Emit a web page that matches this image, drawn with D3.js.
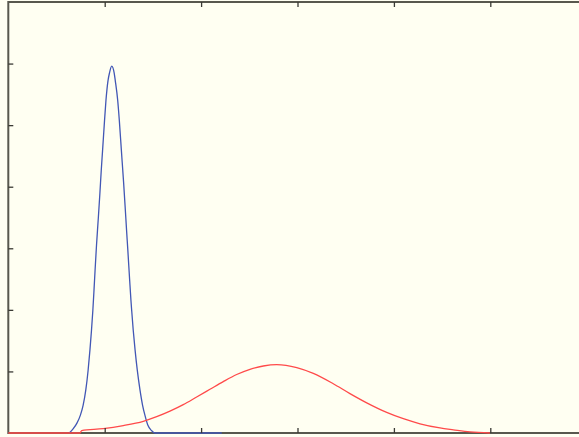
<!DOCTYPE html>
<html>
<head>
<meta charset="utf-8">
<script src="https://cdn.jsdelivr.net/npm/d3@7"></script>
<style>
  html, body { margin: 0; padding: 0; background: #fffff2; }
  svg { display: block; }
</style>
</head>
<body>
<div id="chart"></div>
<script>
// Chart size (the plot frame runs past the right edge of the window)
var w = 579, h = 437;
var frame = {left: 8.3, top: 2, right: 586.7, bottom: 433};

// Tick positions
var xTicks = [1, 2, 3, 4, 5];
var yTicks = [1, 2, 3, 4, 5, 6];

// Blue curve (narrow peak)
var blueX = [0.633, 0.674, 0.712, 0.748, 0.776, 0.804, 0.828, 0.847, 0.863, 0.877,
             0.889, 0.900, 0.915, 0.932, 0.950, 0.964, 0.978, 0.998, 1.013, 1.034,
             1.050, 1.073, 1.098, 1.110, 1.135, 1.152, 1.173, 1.196, 1.211, 1.227,
             1.240, 1.259, 1.272, 1.280, 1.296, 1.315, 1.338, 1.366, 1.393, 1.417,
             1.447, 1.485, 1.522, 2.214];
var blueY = [0.00, 0.07, 0.16, 0.29, 0.45, 0.70, 1.02, 1.35, 1.67, 1.99,
             2.32, 2.64, 3.05, 3.45, 3.89, 4.26, 4.59, 5.07, 5.40, 5.72,
             5.85, 5.96, 5.85, 5.72, 5.40, 5.07, 4.59, 4.07, 3.70, 3.29,
             2.97, 2.48, 2.16, 1.99, 1.67, 1.35, 1.02, 0.70, 0.45, 0.29,
             0.13, 0.04, 0.00, 0.00];

// Red curve (wide peak)
var redX = [0.000, 0.744, 0.761, 0.985, 1.193, 1.400, 1.539, 1.677, 1.815, 1.954,
            2.092, 2.230, 2.369, 2.507, 2.645, 2.784, 2.992, 3.164, 3.371, 3.544,
            3.718, 3.925, 4.098, 4.271, 4.478, 4.617, 4.790, 4.996];
var redY = [0.000, 0.000, 0.040, 0.070, 0.120, 0.190, 0.265, 0.355, 0.460, 0.585,
            0.710, 0.835, 0.950, 1.035, 1.088, 1.110, 1.062, 0.968, 0.800, 0.640,
            0.490, 0.335, 0.232, 0.150, 0.082, 0.052, 0.018, 0.000];

var svg = d3.select("#chart")
  .append("svg")
    .attr("width", w)
    .attr("height", h);

svg.append("rect")
  .attr("width", w)
  .attr("height", h)
  .attr("fill", "#fffff2");

var x = d3.scaleLinear().domain([0, 6]).range([frame.left, frame.right]);
var y = d3.scaleLinear().domain([0, 7]).range([frame.bottom, frame.top]);

// Frame
svg.append("rect")
  .attr("x", frame.left)
  .attr("y", frame.top)
  .attr("width", frame.right - frame.left)
  .attr("height", frame.bottom - frame.top)
  .attr("fill", "none")
  .attr("stroke", "#58584e")
  .attr("stroke-width", 2);

var line = d3.line()
  .x(function(d) { return x(d[0]); })
  .y(function(d) { return y(d[1]); })
  .curve(d3.curveMonotoneX);

// Curves
svg.append("path")
  .datum(d3.zip(blueX, blueY))
  .attr("fill", "none")
  .attr("stroke", "#4257b5")
  .attr("stroke-width", 1.3)
  .attr("d", line);

svg.append("path")
  .datum(d3.zip(redX, redY))
  .attr("fill", "none")
  .attr("stroke", "#ff4a4a")
  .attr("stroke-width", 1.3)
  .attr("d", line);

// Ticks (inward, no labels)
function styleAxis(g) {
  g.select(".domain").remove();
  g.selectAll(".tick line").attr("stroke", "#3a3a34").attr("stroke-width", 1.3);
  g.selectAll(".tick text").remove();
}

svg.append("g")
  .attr("transform", "translate(0," + frame.bottom + ")")
  .call(d3.axisBottom(x).tickValues(xTicks).tickSize(-5).tickFormat(""))
  .call(styleAxis);

svg.append("g")
  .attr("transform", "translate(0," + frame.top + ")")
  .call(d3.axisTop(x).tickValues(xTicks).tickSize(-5).tickFormat(""))
  .call(styleAxis);

svg.append("g")
  .attr("transform", "translate(" + frame.left + ",0)")
  .call(d3.axisLeft(y).tickValues(yTicks).tickSize(-5).tickFormat(""))
  .call(styleAxis);
</script>
</body>
</html>
